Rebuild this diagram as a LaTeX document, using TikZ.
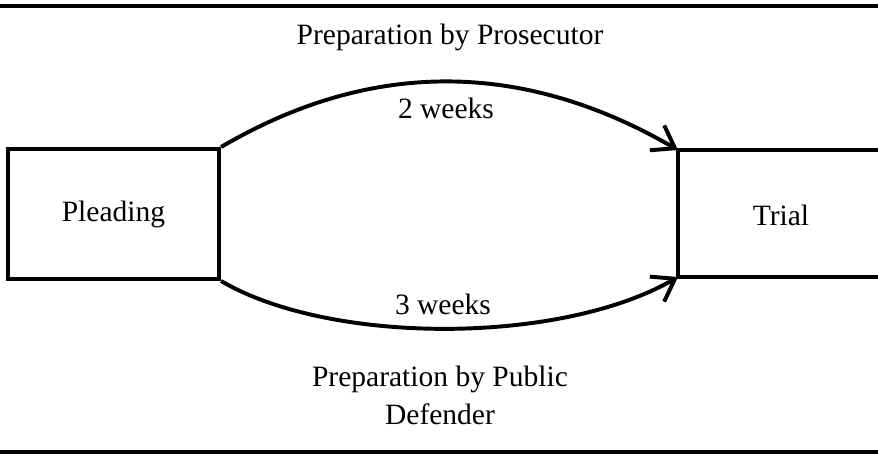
\documentclass[tikz,border=0pt]{standalone}
\usepackage{fontspec}
\setmainfont{Liberation Serif}
\usetikzlibrary{arrows.meta,positioning}
\tikzset{
  stage/.style={rectangle,draw=black,line width=1.4pt,minimum width=2.64cm,minimum height=1.625cm},
  prep/.style={-{Straight Barb[length=2.6mm,width=3.6mm,line width=1.4pt]},line width=1.4pt},
  caption/.style={align=center,font=\fontsize{10.5}{13.5}\selectfont},
  rule/.style={line width=1.2pt}}

\begin{document}
\begin{tikzpicture}[x=0.0125cm,y=-0.0125cm,font=\fontsize{10.5}{13.5}\selectfont]
        \useasboundingbox (0,0) rectangle (878,455);
        \draw[rule] (0,6) -- (878,6);
        \draw[rule] (0,452) -- (878,452);

        \node[stage] (plead) at (113.5,214) {Pleading};

        % trial box, open on the right
        \coordinate (tnw) at (678,150);
        \coordinate (tsw) at (678,277);
        \draw[line width=1.4pt] (878,150) -- (tnw) -- (tsw) -- (878,277);
        \node (trial) at (781,215) {Trial};

        \draw[prep] (plead.north east) .. controls (371,59) and (523,60) .. (tnw);
        \draw[prep] (plead.south east) .. controls (330,345) and (560,345) .. (tsw);

        \node[caption] (pros) at (450,37) {Preparation by Prosecutor};
        \node (two) at (446,108) {2 weeks};
        \node (three) at (443,304) {3 weeks};
        \node[caption] (pub) at (440,395) {Preparation by Public\\Defender};
    \end{tikzpicture}
\end{document}
